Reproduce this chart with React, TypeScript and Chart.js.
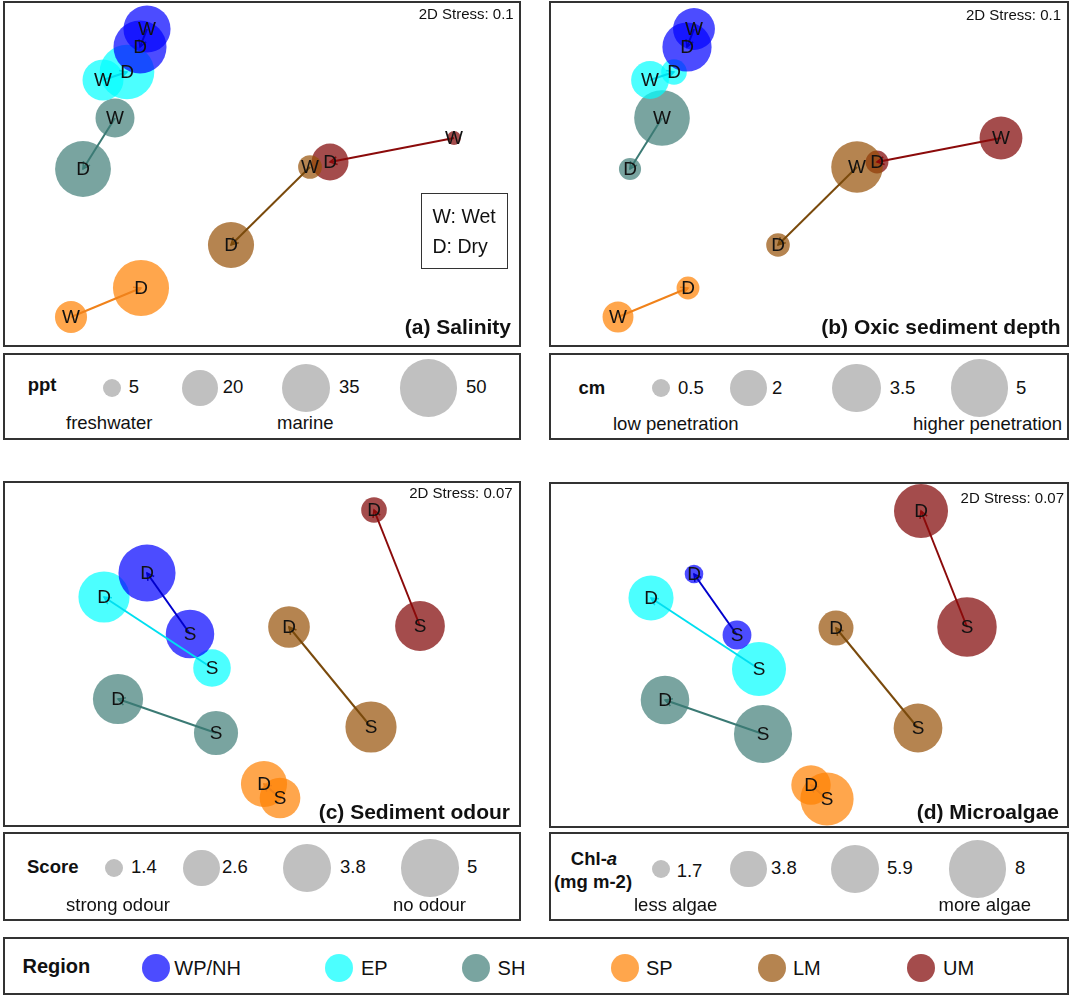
import React, { useEffect, useRef } from "react";
import { Chart, registerables } from "chart.js";

Chart.register(...registerables);

// ---------------- DATA ----------------
const regions = ["WP/NH", "EP", "SH", "SP", "LM", "UM"];

// nMDS ordination, wet vs dry season (panels a, b)
const wetX = [-1.15, -1.59, -1.47, -1.91, 0.48, 1.92];
const wetY = [1.45, 0.94, 0.56, -1.43, 0.07, 0.36];
const dryX = [-1.22, -1.35, -1.79, -1.21, -0.31, 0.68];
const dryY = [1.27, 1.02, 0.05, -1.14, -0.71, 0.12];

// bubble variables (panels a, b)
const salinityWet = [33.5, 25.4, 23, 15.6, 8.6, 3.0];
const salinityDry = [42.4, 45, 47, 47.4, 32.1, 20.7];
const oxicWet = [2.65, 2.16, 4.67, 1.45, 4.01, 2.77];
const oxicDry = [3.65, 1.0, 0.75, 0.8, 0.85, 0.8];

// nMDS ordination, D vs S (panels c, d)
const dX = [-1.15, -1.58, -1.44, 0.02, 0.27, 1.12];
const dY = [0.81, 0.57, -0.45, -1.3, 0.27, 1.44];
const sX = [-0.72, -0.5, -0.46, 0.18, 1.09, 1.58];
const sY = [0.2, -0.14, -0.79, -1.44, -0.73, 0.28];

// bubble variables (panels c, d)
const odourD = [4.93, 4.16, 4.04, 3.57, 3.1, 1.8];
const odourS = [3.84, 2.71, 3.35, 3.0, 4.16, 3.99];
const chlD = [1.75, 5.3, 5.98, 4.29, 3.59, 7.16];
const chlS = [2.77, 7.16, 8.12, 6.98, 6.02, 8.47];

// size legend ticks
const salinityTicks = [5, 20, 35, 50];
const oxicTicks = [0.5, 2, 3.5, 5];
const odourTicks = [1.4, 2.6, 3.8, 5];
const chlTicks = [1.7, 3.8, 5.9, 8];

const stressAB = "2D Stress: 0.1";
const stressCD = "2D Stress: 0.07";

// ---------------- STYLE ----------------
const W = 1072;
const H = 996;
const FONT = '"Liberation Sans", Arial, Helvetica, sans-serif';
const regionFill = [
  "rgba(0,0,255,0.7)",
  "rgba(0,255,255,0.7)",
  "rgba(64,126,120,0.7)",
  "rgba(255,128,0,0.7)",
  "rgba(150,80,5,0.7)",
  "rgba(125,0,0,0.7)",
];
const regionLine = ["#0000cc", "#00dff0", "#3b7a74", "#f0821a", "#7a4a0c", "#8b0a0a"];
const R_MIN = 9;
const R_MAX = 28.8;
const LEGEND_GREY = "#c0c0c0";
const BORDER = "2px solid #333";

function bubbleRadius(v: number, ticks: number[]) {
  const t0 = ticks[0];
  const t1 = ticks[ticks.length - 1];
  const a = R_MIN * R_MIN + ((v - t0) / (t1 - t0)) * (R_MAX * R_MAX - R_MIN * R_MIN);
  return Math.sqrt(Math.max(a, 4));
}

type Box = { left: number; top: number; width: number; height: number };

type PanelSpec = {
  box: Box;
  x1: number[];
  y1: number[];
  x2: number[];
  y2: number[];
  v1: number[];
  v2: number[];
  ticks: number[];
  labels: [string, string];
};

const panelA: PanelSpec = {
  box: { left: 3, top: 1, width: 518, height: 346 },
  x1: wetX, y1: wetY, x2: dryX, y2: dryY,
  v1: salinityWet, v2: salinityDry, ticks: salinityTicks, labels: ["W", "D"],
};
const panelB: PanelSpec = {
  box: { left: 549, top: 1, width: 520, height: 346 },
  x1: wetX, y1: wetY, x2: dryX, y2: dryY,
  v1: oxicWet, v2: oxicDry, ticks: oxicTicks, labels: ["W", "D"],
};
const panelC: PanelSpec = {
  box: { left: 3, top: 481, width: 518, height: 346 },
  x1: sX, y1: sY, x2: dX, y2: dY,
  v1: odourS, v2: odourD, ticks: odourTicks, labels: ["S", "D"],
};
const panelD: PanelSpec = {
  box: { left: 549, top: 482, width: 520, height: 346 },
  x1: sX, y1: sY, x2: dX, y2: dY,
  v1: chlS, v2: chlD, ticks: chlTicks, labels: ["S", "D"],
};

function makeOverlayPlugin(spec: PanelSpec) {
  return {
    id: "arrowsAndLetters",
    afterDatasetsDraw(chart: any) {
      const ctx = chart.ctx;
      const xs = chart.scales.x;
      const ys = chart.scales.y;
      ctx.save();
      regions.forEach((_, i) => {
        const px0 = xs.getPixelForValue(spec.x1[i]);
        const py0 = ys.getPixelForValue(spec.y1[i]);
        const px1 = xs.getPixelForValue(spec.x2[i]);
        const py1 = ys.getPixelForValue(spec.y2[i]);
        const ang = Math.atan2(py1 - py0, px1 - px0);
        const L = 8;
        ctx.strokeStyle = regionLine[i];
        ctx.lineWidth = 1.5;
        ctx.beginPath();
        ctx.moveTo(px1 - L * Math.cos(ang - 0.5), py1 - L * Math.sin(ang - 0.5));
        ctx.lineTo(px1, py1);
        ctx.lineTo(px1 - L * Math.cos(ang + 0.5), py1 - L * Math.sin(ang + 0.5));
        ctx.stroke();
      });
      ctx.fillStyle = "#111";
      ctx.font = `19px ${FONT}`;
      ctx.textAlign = "center";
      ctx.textBaseline = "middle";
      regions.forEach((_, i) => {
        ctx.fillText(spec.labels[0], xs.getPixelForValue(spec.x1[i]), ys.getPixelForValue(spec.y1[i]) + 1);
        ctx.fillText(spec.labels[1], xs.getPixelForValue(spec.x2[i]), ys.getPixelForValue(spec.y2[i]) + 1);
      });
      ctx.restore();
    },
  };
}

function BubblePanel({ spec }: { spec: PanelSpec }) {
  const ref = useRef<HTMLCanvasElement>(null);
  const { box } = spec;
  useEffect(() => {
    if (!ref.current) return;
    const xr = box.width / 200;
    const yr = box.height / 200;
    const datasets: any[] = [];
    regions.forEach((name, i) => {
      datasets.push({
        type: "line",
        label: name + " shift",
        data: [
          { x: spec.x1[i], y: spec.y1[i] },
          { x: spec.x2[i], y: spec.y2[i] },
        ],
        borderColor: regionLine[i],
        borderWidth: 2,
        pointRadius: 0,
        fill: false,
        tension: 0,
        clip: false,
        order: -1,
      });
    });
    regions.forEach((name, i) => {
      datasets.push({
        type: "bubble",
        label: name,
        data: [
          { x: spec.x1[i], y: spec.y1[i], r: bubbleRadius(spec.v1[i], spec.ticks) },
          { x: spec.x2[i], y: spec.y2[i], r: bubbleRadius(spec.v2[i], spec.ticks) },
        ],
        backgroundColor: regionFill[i],
        borderWidth: 0,
        hoverRadius: 0,
        clip: false,
        order: 1,
      });
    });
    const chart = new Chart(ref.current, {
      type: "bubble",
      data: { datasets },
      options: {
        animation: false,
        responsive: false,
        maintainAspectRatio: false,
        events: [],
        layout: { padding: 0, autoPadding: false },
        plugins: { legend: { display: false }, tooltip: { enabled: false } },
        scales: {
          x: { type: "linear", min: -xr, max: xr, display: false },
          y: { type: "linear", min: -yr, max: yr, display: false },
        },
      } as any,
      plugins: [makeOverlayPlugin(spec)],
    });
    return () => chart.destroy();
  }, []);
  return (
    <canvas
      ref={ref}
      width={box.width}
      height={box.height}
      style={{ position: "absolute", left: box.left, top: box.top, width: box.width, height: box.height }}
    />
  );
}

function T({
  x, y, size, bold, align = "left", children,
}: { x: number; y: number; size: number; bold?: boolean; align?: string; children: any }) {
  const style: any = {
    position: "absolute",
    top: y - 0.8465 * size,
    fontSize: size,
    lineHeight: `${size}px`,
    fontFamily: FONT,
    fontWeight: bold ? 700 : 400,
    whiteSpace: "nowrap",
    color: "#111",
  };
  if (align === "left") style.left = x;
  else if (align === "right") style.right = W - x;
  else {
    style.left = x;
    style.transform = "translateX(-50%)";
  }
  return <div style={style}>{children}</div>;
}

function Frame({ box, border = BORDER }: { box: Box; border?: string }) {
  return (
    <div
      style={{
        position: "absolute",
        left: box.left,
        top: box.top,
        width: box.width,
        height: box.height,
        border,
        boxSizing: "border-box",
        pointerEvents: "none",
      }}
    />
  );
}

function Dot({ cx, cy, r, color }: { cx: number; cy: number; r: number; color: string }) {
  return (
    <div
      style={{
        position: "absolute",
        left: cx - r,
        top: cy - r,
        width: 2 * r,
        height: 2 * r,
        borderRadius: "50%",
        background: color,
      }}
    />
  );
}

// layout of the size legends
const legendA = { box: { left: 3, top: 353, width: 518, height: 87 }, cx: [111.9, 199.8, 305.6, 428.5], cy: 388, nx: [128.8, 222.7, 339, 466], ny: [394, 394, 394, 394] };
const legendB = { box: { left: 549, top: 353, width: 520, height: 87 }, cx: [660.8, 748.6, 856.5, 979.7], cy: 388, nx: [678, 772, 889.7, 1016], ny: [395, 395, 395, 395] };
const legendC = { box: { left: 3, top: 832, width: 518, height: 89 }, cx: [113.5, 201.6, 307, 430], cy: 868, nx: [131, 222, 340, 467], ny: [874, 874, 874, 874] };
const legendD = { box: { left: 549, top: 832, width: 520, height: 89 }, cx: [660.7, 748.5, 855, 977.5], cy: 869, nx: [676.7, 771, 887, 1015], ny: [878, 875, 875, 875] };
const regionBox = { left: 3, top: 937, width: 1066, height: 58 };
const regionCx = [155.5, 339, 476, 625, 772, 921];
const regionTx = [174.3, 361, 497.6, 646, 793, 943];

const LEG_FS = 18.5;

function SizeKeys({ lg, ticks }: { lg: any; ticks: number[] }) {
  return (
    <>
      {ticks.map((t, i) => (
        <React.Fragment key={i}>
          <Dot cx={lg.cx[i]} cy={lg.cy} r={bubbleRadius(t, ticks)} color={LEGEND_GREY} />
          <T x={lg.nx[i]} y={lg.ny[i]} size={LEG_FS}>{String(t)}</T>
        </React.Fragment>
      ))}
      <Frame box={lg.box} />
    </>
  );
}

export default function App() {
  return (
    <div style={{ position: "absolute", left: 0, top: 0, width: W, height: H, background: "#fff", overflow: "hidden" }}>
      {/* panels */}
      <BubblePanel spec={panelA} />
      <BubblePanel spec={panelB} />
      <BubblePanel spec={panelC} />
      <BubblePanel spec={panelD} />
      <Frame box={panelA.box} />
      <Frame box={panelB.box} />
      <Frame box={panelC.box} />
      <Frame box={panelD.box} />

      <T x={513.7} y={18.7} size={15} align="right">{stressAB}</T>
      <T x={1061} y={19.4} size={15} align="right">{stressAB}</T>
      <T x={512.6} y={497.4} size={15} align="right">{stressCD}</T>
      <T x={1064} y={502.4} size={15} align="right">{stressCD}</T>

      <T x={511} y={333.5} size={21} bold align="right">(a) Salinity</T>
      <T x={1060.5} y={333.5} size={21} bold align="right">(b) Oxic sediment depth</T>
      <T x={510} y={818.8} size={21} bold align="right">(c) Sediment odour</T>
      <T x={1059} y={818.5} size={21} bold align="right">(d) Microalgae</T>

      {/* W/D key */}
      <Frame box={{ left: 420.7, top: 193, width: 87.3, height: 76 }} border="1.3px solid #333" />
      <T x={432.5} y={223.3} size={19.5}>W: Wet</T>
      <T x={432.5} y={253.3} size={19.5}>D: Dry</T>

      {/* size legend a */}
      <T x={27.7} y={392} size={LEG_FS} bold>ppt</T>
      <SizeKeys lg={legendA} ticks={salinityTicks} />
      <T x={66} y={429.3} size={LEG_FS}>freshwater</T>
      <T x={277} y={429.3} size={LEG_FS}>marine</T>

      {/* size legend b */}
      <T x={578.4} y={395} size={LEG_FS} bold>cm</T>
      <SizeKeys lg={legendB} ticks={oxicTicks} />
      <T x={613} y={431} size={LEG_FS}>low penetration</T>
      <T x={913} y={431} size={LEG_FS}>higher penetration</T>

      {/* size legend c */}
      <T x={27} y={874} size={LEG_FS} bold>Score</T>
      <SizeKeys lg={legendC} ticks={odourTicks} />
      <T x={66} y={912} size={LEG_FS}>strong odour</T>
      <T x={393} y={912} size={LEG_FS}>no odour</T>

      {/* size legend d */}
      <T x={594} y={866} size={LEG_FS} bold align="center">
        Chl-<i>a</i>
      </T>
      <T x={593} y={889} size={LEG_FS} bold align="center">(mg m-2)</T>
      <SizeKeys lg={legendD} ticks={chlTicks} />
      <T x={634} y={912} size={LEG_FS}>less algae</T>
      <T x={938.5} y={912} size={LEG_FS}>more algae</T>

      {/* region legend */}
      <Frame box={regionBox} />
      <T x={22.5} y={973} size={20} bold>Region</T>
      {regions.map((name, i) => (
        <React.Fragment key={name}>
          <Dot cx={regionCx[i]} cy={968} r={14} color={regionFill[i]} />
          <T x={regionTx[i]} y={975} size={20}>{name}</T>
        </React.Fragment>
      ))}
    </div>
  );
}
